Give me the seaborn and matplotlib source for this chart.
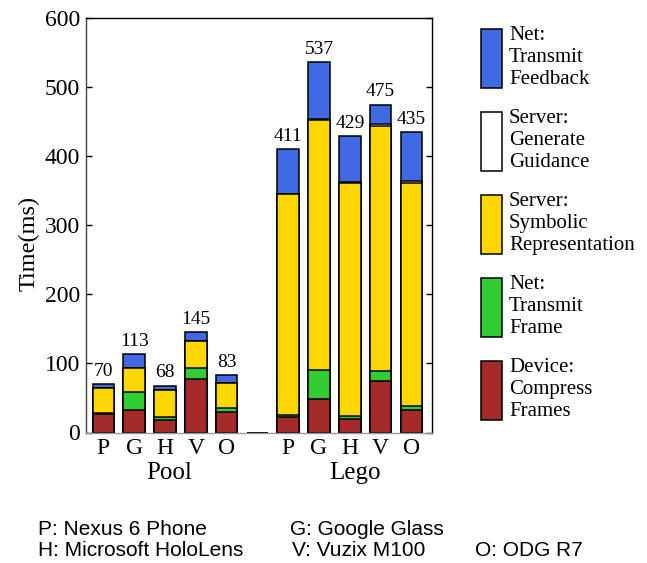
import matplotlib
matplotlib.use("Agg")
import matplotlib.pyplot as plt
import matplotlib.transforms as mtransforms
from matplotlib.patches import Patch
import seaborn as sns
import pandas as pd

# ---- data ----
slots = ["Pool-P", "Pool-G", "Pool-H", "Pool-V", "Pool-O", "gap",
         "Lego-P", "Lego-G", "Lego-H", "Lego-V", "Lego-O"]
tick_letters = ["P", "G", "H", "V", "O", "", "P", "G", "H", "V", "O"]
groups = ["Pool", "Lego"]
compress_frames = [27, 32, 18, 77, 29, 0, 23, 48, 20, 74, 33]
transmit_frame = [1, 26, 4, 17, 6, 0, 2, 42, 4, 15, 5]
symbolic_rep = [36, 35, 39, 38, 36, 0, 320, 363, 337, 355, 324]
generate_guidance = [0.5, 1, 1, 1, 1, 0, 1, 1, 2, 3, 2]
transmit_feedback = [5.5, 19, 6, 12, 11, 0, 65, 83, 66, 28, 71]
totals = [70, 113, 68, 145, 83, None, 411, 537, 429, 475, 435]

components = [
    ("Device:\nCompress\nFrames", compress_frames, "#A52A2A"),
    ("Net:\nTransmit\nFrame", transmit_frame, "#32CD32"),
    ("Server:\nSymbolic\nRepresentation", symbolic_rep, "#FFD700"),
    ("Server:\nGenerate\nGuidance", generate_guidance, "#FFFFFF"),
    ("Net:\nTransmit\nFeedback", transmit_feedback, "#4169E1"),
]

plt.rcParams["font.family"] = ["Liberation Serif", "DejaVu Serif"]

fig = plt.figure(figsize=(6.47, 5.63), dpi=100)
W, H = 647, 563
ax_l, ax_r, ax_t, ax_b = 85.5, 431.5, 18.3, 432.5
ax = fig.add_axes([ax_l / W, 1 - ax_b / H, (ax_r - ax_l) / W, (ax_b - ax_t) / H])

# cumulative heights, bottom-up
cum = [0.0] * len(slots)
cums = []
for name, vals, col in components:
    cum = [c + v for c, v in zip(cum, vals)]
    cums.append(list(cum))

# draw from top layer down so lower layers overlay
for (name, vals, col), c in reversed(list(zip(components, cums))):
    d = pd.DataFrame({"slot": slots, "height": c})
    sns.barplot(data=d, x="slot", y="height", order=slots, color=col,
                saturation=1, width=0.7, edgecolor="black", linewidth=1.1,
                errorbar=None, ax=ax)

labels = ["" if t is None else str(t) for t in totals]
ax.bar_label(ax.containers[0], labels=labels, padding=3, fontsize=14)

ax.set_xlim(-0.58, 10.65)
ax.set_ylim(0, 600)
ax.set_yticks(range(0, 601, 100))
ax.set_xticks(range(len(slots)))
ax.set_xticklabels(tick_letters)
ax.set_xlabel("")
ax.set_ylabel("Time(ms)", fontsize=17.5)
ax.yaxis.set_label_coords(-0.133, 0.457)

ax.tick_params(axis="y", direction="in", length=4, width=1, pad=4,
               labelsize=17, right=True)
ax.tick_params(axis="x", length=0, pad=4, labelsize=17)

for s in ["top", "right"]:
    ax.spines[s].set_color("black")
ax.spines["left"].set_color("#444444")
ax.spines["bottom"].set_color("#999999")
for s in ax.spines.values():
    s.set_linewidth(1.0)

trans = mtransforms.blended_transform_factory(ax.transData, ax.transAxes)
for gname, xc in zip(groups, [2.15, 8.15]):
    ax.text(xc, -0.071, gname, ha="center", va="top", fontsize=18, transform=trans)

# legend (top to bottom = stack top to bottom)
handles = [Patch(facecolor=col, edgecolor="black", linewidth=1.1)
           for name, vals, col in reversed(components)]
leg_labels = [name for name, vals, col in reversed(components)]
leg = ax.legend(handles, leg_labels, loc="upper left",
                bbox_to_anchor=(481 / W, 1 - 26 / H), bbox_transform=fig.transFigure,
                frameon=False, fontsize=15, handlelength=1.01, handleheight=3.98,
                handletextpad=0.336, labelspacing=0.98, borderpad=0, borderaxespad=0)
for t in leg.get_texts():
    t.set_linespacing(1.2)

# device key
sans = ["Liberation Sans", "DejaVu Sans"]
fs = 15
fig.text(38 / W, 1 - 535 / H, "P: Nexus 6 Phone", fontsize=fs, family=sans, va="baseline")
fig.text(290 / W, 1 - 535 / H, "G: Google Glass", fontsize=fs, family=sans, va="baseline")
fig.text(38 / W, 1 - 556.5 / H, "H: Microsoft HoloLens", fontsize=fs, family=sans, va="baseline")
fig.text(292 / W, 1 - 556.5 / H, "V: Vuzix M100", fontsize=fs, family=sans, va="baseline")
fig.text(475 / W, 1 - 556.5 / H, "O: ODG R7", fontsize=fs, family=sans, va="baseline")

fig.savefig("out.png", dpi=100)
